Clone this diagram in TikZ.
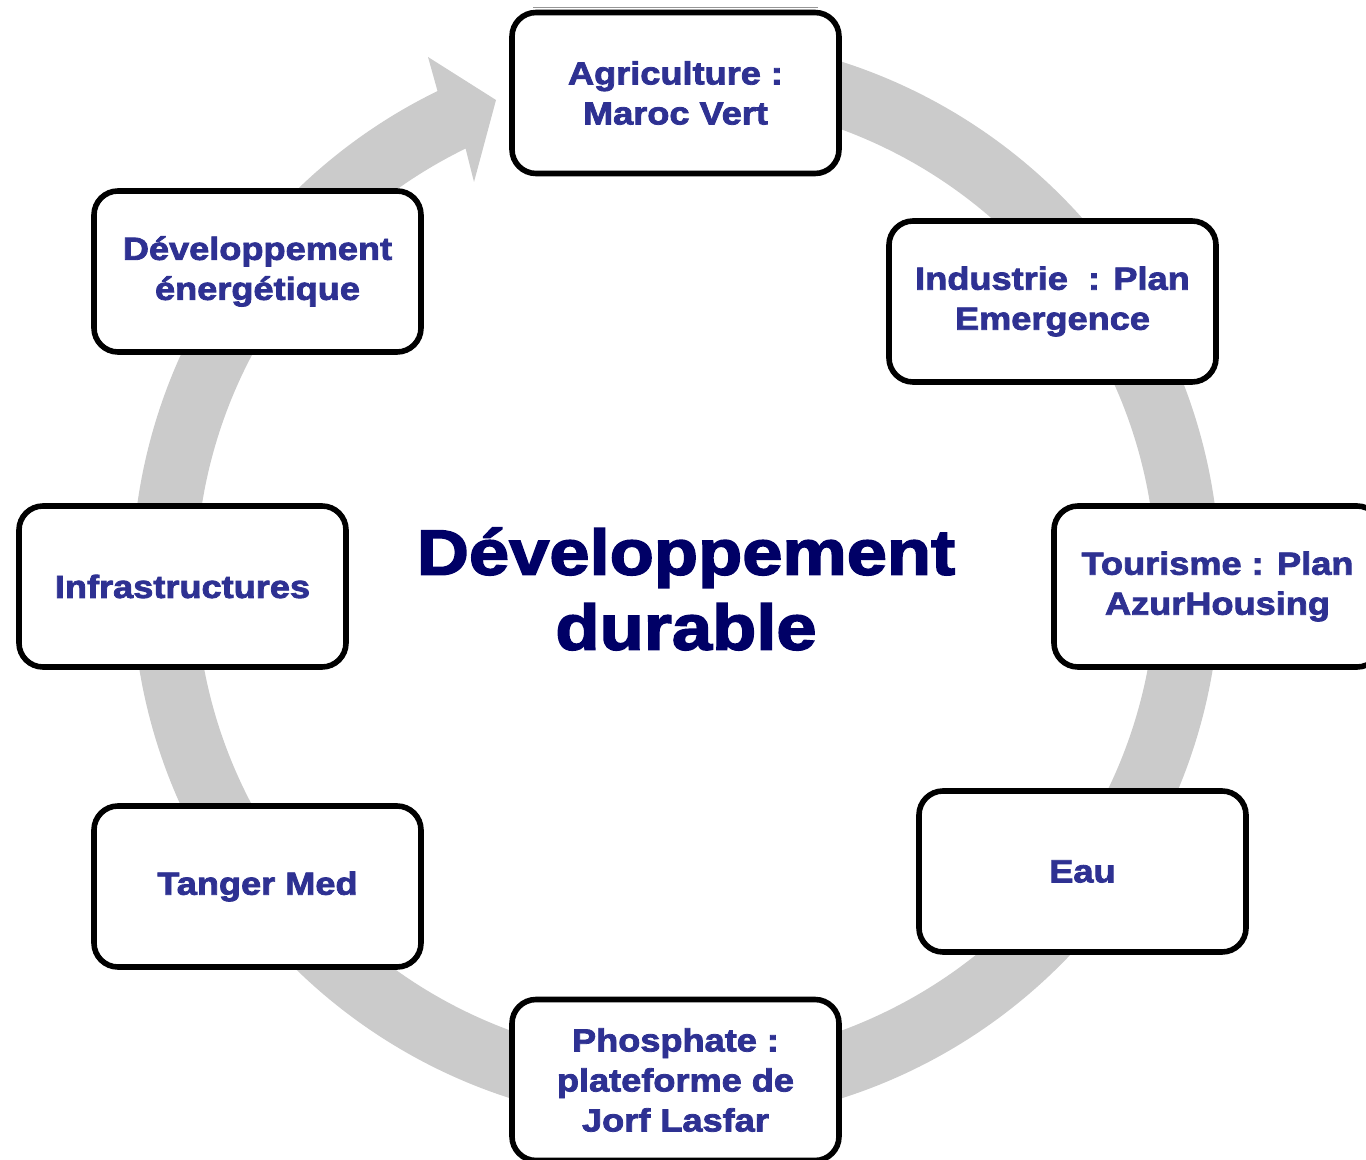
\documentclass[tikz,border=0pt]{standalone}
\usepackage{fontspec}
\setmainfont{Liberation Sans}
\newfontfamily\blackfont{Liberation Sans Bold}[FakeStretch=1.13,FakeBold=2.5]
\usetikzlibrary{calc}
\definecolor{ringgray}{RGB}{203,203,203}
\definecolor{boxblue}{RGB}{46,49,146}
\definecolor{titleblue}{RGB}{0,0,102}
\definecolor{thingray}{RGB}{150,150,150}
\tikzset{
  stepbox/.style={draw=black, line width=2.8pt, rounded corners=12pt, fill=white,
    minimum width=163.5pt, minimum height=80.5pt, align=center, text=boxblue,
    font=\fontsize{16}{20}\selectfont\blackfont, inner sep=0pt},
  titletext/.style={align=center, text=titleblue, font=\fontsize{32}{37.5}\selectfont\blackfont}
}
\begin{document}
\begin{tikzpicture}[x=0.5pt,y=0.5pt]
\useasboundingbox (0,0) rectangle (1366,-1160);
\coordinate (C) at (676,-580);
% circular arrow
\fill[ringgray] ($(C)+(95:544)$) arc[start angle=95, end angle=-244, radius=544]
  -- (428,-57) -- (496,-100) -- (474,-182)
  -- ($(C)+(116:480)$) arc[start angle=116, end angle=455, radius=480] -- cycle;
% thin line above top box
\coordinate (t1) at (533,-8);
\coordinate (t2) at (818,-8);
\draw[thingray, line width=0.5pt] (t1) -- (t2);
% boxes
\node[stepbox] (agri) at (675.5,-93) {Agriculture :\\Maroc Vert};
\node[stepbox] (indus) at (1052.5,-301.5) {Industrie\ \ : Plan\\Emergence};
\node[stepbox] (tour) at (1217.5,-586.5) {Tourisme : Plan\\AzurHousing};
\node[stepbox] (eau) at (1082.5,-871.5) {Eau};
\node[stepbox] (phos) at (675.5,-1080) {Phosphate :\\plateforme de\\Jorf Lasfar};
\node[stepbox] (tanger) at (257.5,-886.5) {Tanger Med};
\node[stepbox] (infra) at (182.5,-586.5) {Infrastructures};
\node[stepbox] (energ) at (257.5,-271.5) {Développement\\énergétique};
% title
\node[titletext] (title) at (686,-589) {Développement\\durable};
\end{tikzpicture}
\end{document}
